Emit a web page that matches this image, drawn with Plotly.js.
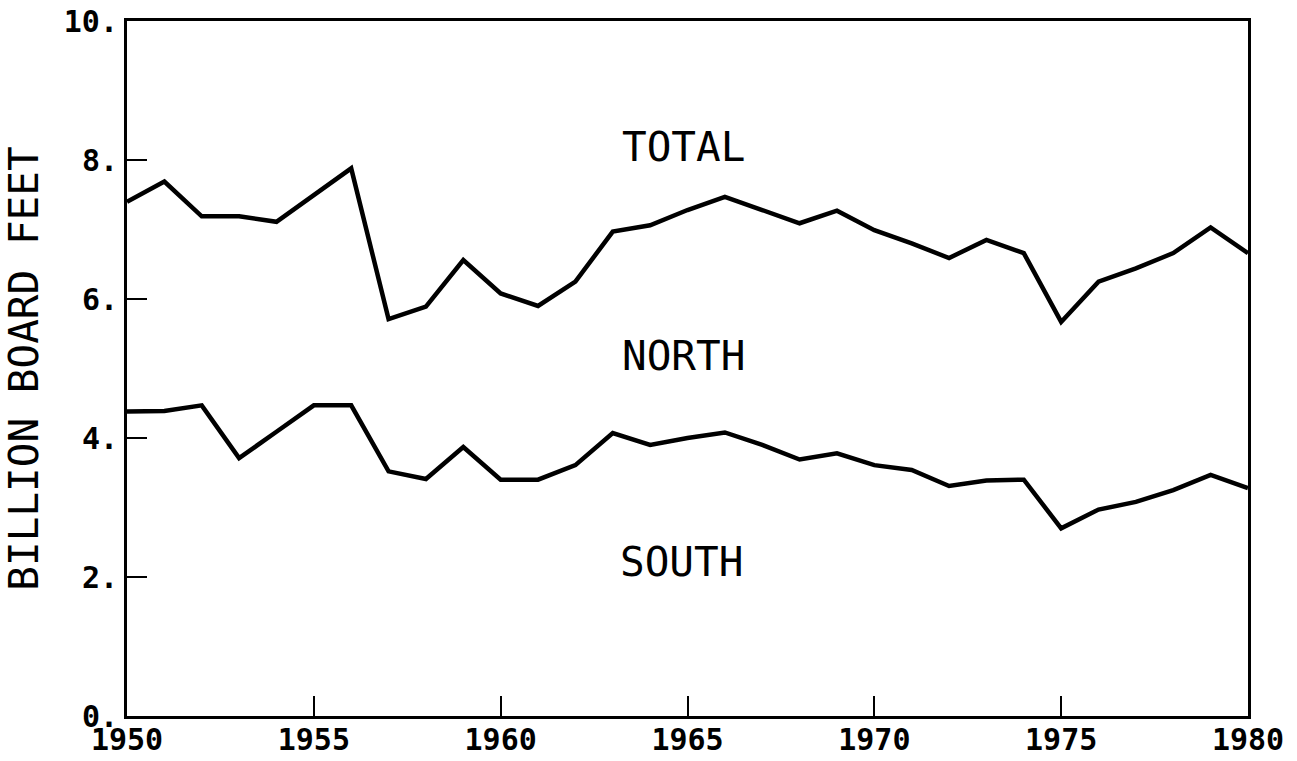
<!DOCTYPE html>
<html>
<head>
<meta charset="utf-8">
<script src="https://cdn.plot.ly/plotly-3.0.1.min.js"></script>
<style>
  html, body { margin: 0; padding: 0; background: #fff; }
  #chart { width: 1297px; height: 761px; }
</style>
</head>
<body>
<div id="chart"></div>
<script>
const years = [1950,1951,1952,1953,1954,1955,1956,1957,1958,1959,1960,1961,1962,1963,1964,1965,1966,1967,1968,1969,1970,1971,1972,1973,1974,1975,1976,1977,1978,1979,1980];
const total = [7.40,7.69,7.19,7.19,7.11,7.50,7.88,5.71,5.89,6.56,6.08,5.90,6.25,6.97,7.06,7.28,7.47,7.28,7.09,7.27,6.99,6.80,6.59,6.85,6.66,5.67,6.25,6.44,6.66,7.03,6.66];
const south = [4.38,4.39,4.47,3.71,4.09,4.47,4.47,3.52,3.41,3.87,3.40,3.40,3.61,4.07,3.90,4.00,4.08,3.90,3.69,3.78,3.61,3.54,3.31,3.39,3.40,2.70,2.97,3.08,3.25,3.47,3.28];

const yTickVals = [0,2,4,6,8,10];
const yTickText = ["0.","2.","4.","6.","8.","10."];
const xTickVals = [1950,1955,1960,1965,1970,1975,1980];
const xTickText = ["1950","1955","1960","1965","1970","1975","1980"];

const regionLabels = ["TOTAL","NORTH","SOUTH"];
const labelX = [1964.88,1964.9,1964.85];
const labelY = [8.19,5.18,2.21];

const lineStyle = {color:'#000', width:4.5};
const traces = [
  {x: years, y: total, type:'scatter', mode:'lines', name:'Total', line: lineStyle, hoverinfo:'x+y'},
  {x: years, y: south, type:'scatter', mode:'lines', name:'South', line: lineStyle, hoverinfo:'x+y'}
];

const annotations = regionLabels.map((t,i)=>({
  x: labelX[i], y: labelY[i], xref:'x', yref:'y', text: t, showarrow:false,
  xanchor:'center', yanchor:'middle',
  font:{family:'DejaVu Sans Mono', size:41, color:'#000'}
}));

const layout = {
  width:1297, height:761,
  margin:{l:127, r:49, t:21, b:45, pad:0},
  paper_bgcolor:'#fff', plot_bgcolor:'#fff',
  showlegend:false,
  font:{family:'DejaVu Sans Mono', color:'#000'},
  xaxis:{
    range:[1950,1980], showgrid:false, zeroline:false,
    showline:true, mirror:true, linecolor:'#000', linewidth:3,
    ticks:'inside', ticklen:20, tickwidth:2, tickcolor:'#000',
    tickvals:xTickVals, ticktext:xTickText, ticklabelstandoff:-5,
    tickfont:{family:'DejaVu Sans Mono', size:30, weight:'bold', color:'#000'}
  },
  yaxis:{
    range:[0,10], showgrid:false, zeroline:false,
    showline:true, mirror:true, linecolor:'#000', linewidth:3,
    ticks:'inside', ticklen:20, tickwidth:2, tickcolor:'#000',
    tickvals:yTickVals, ticktext:yTickText,
    tickfont:{family:'DejaVu Sans Mono', size:30, weight:'bold', color:'#000'},
    title:{text:'BILLION BOARD FEET', standoff:20,
      font:{family:'DejaVu Sans Mono', size:41, color:'#000'}}
  },
  annotations: annotations
};

Plotly.newPlot('chart', traces, layout, {displayModeBar:false, staticPlot:true});
</script>
</body>
</html>
